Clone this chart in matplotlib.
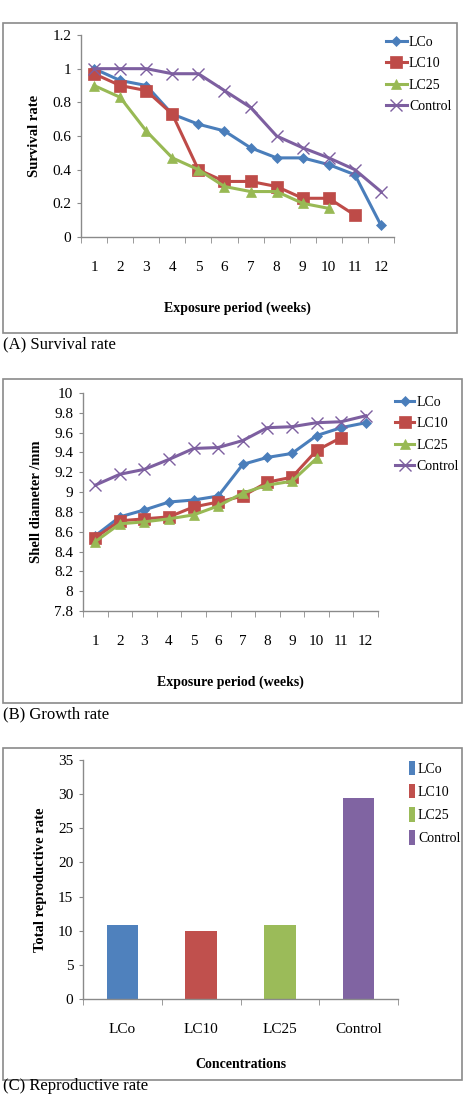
import numpy as np
import matplotlib.pyplot as plt
from matplotlib.patches import Rectangle, Patch

plt.rcParams["font.family"] = ["Liberation Serif", "DejaVu Serif"]

weeks = list(range(1, 13))
series_names = ["LCo", "LC10", "LC25", "Control"]

# (A) survival rate
surv_lco = [1.0, 0.93, 0.90, 0.73, 0.67, 0.63, 0.53, 0.47, 0.47, 0.43, 0.37, 0.07]
surv_lc10 = [0.97, 0.90, 0.87, 0.73, 0.40, 0.33, 0.33, 0.30, 0.23, 0.23, 0.13]
surv_lc25 = [0.90, 0.83, 0.63, 0.47, 0.40, 0.30, 0.27, 0.27, 0.20, 0.17]
surv_ctrl = [1.0, 1.0, 1.0, 0.97, 0.97, 0.87, 0.77, 0.60, 0.53, 0.47, 0.40, 0.27]

# (B) shell diameter
grow_lco = [8.56, 8.75, 8.82, 8.90, 8.92, 8.96, 9.28, 9.35, 9.39, 9.57, 9.65, 9.70]
grow_lc10 = [8.54, 8.71, 8.73, 8.75, 8.85, 8.90, 8.96, 9.10, 9.15, 9.42, 9.55]
grow_lc25 = [8.50, 8.68, 8.70, 8.73, 8.77, 8.86, 8.99, 9.07, 9.11, 9.34]
grow_ctrl = [9.07, 9.18, 9.23, 9.33, 9.44, 9.45, 9.52, 9.65, 9.66, 9.70, 9.71, 9.77]

# (C) total reproductive rate
repro = [10.9, 9.9, 10.8, 29.5]

line_colors = ["#4A7EBB", "#BE4B48", "#98B954", "#7D5FA0"]
bar_colors = ["#4F81BD", "#C0504D", "#9BBB59", "#8064A2"]
markers = ["D", "s", "^", "x"]
msizes = [5, 8, 7, 8]

W, H = 470, 1096
fig = plt.figure(figsize=(W / 100, H / 100), dpi=100)


def px_axes(left, top, right, bottom):
    return fig.add_axes([left / W, 1 - bottom / H, (right - left) / W, (bottom - top) / H])


def px_point(x, y):
    return (x / W, 1 - y / H)


def frame(left, top, right, bottom):
    fig.patches.append(Rectangle((left / W, 1 - bottom / H), (right - left) / W,
                                 (bottom - top) / H, transform=fig.transFigure,
                                 fill=False, edgecolor="#8a8a8a", lw=1.2))


def style_axes(ax, ncat):
    for s in ["top", "right"]:
        ax.spines[s].set_visible(False)
    for s in ["left", "bottom"]:
        ax.spines[s].set_color("#8a8a8a")
        ax.spines[s].set_linewidth(1.0)
    ax.set_xlim(0.5, ncat + 0.5)
    ax.set_xticks(np.arange(1, ncat + 1))
    ax.set_xticks(np.arange(0.5, ncat + 1), minor=True)
    ax.tick_params(axis="x", which="major", length=0, pad=17, labelsize=11)
    ax.tick_params(axis="x", which="minor", length=4, color="#8a8a8a", direction="out")
    ax.tick_params(axis="y", length=3, color="#8a8a8a", labelsize=11, pad=4)


def line_panel(ax, data, ylim, yticks, ytick_labels, ylabel, leg_xy, handle_len):
    for vals, c, m, ms, name in zip(data, line_colors, markers, msizes, series_names):
        x = weeks[:len(vals)]
        ax.plot(x, vals, color=c, lw=2.2, marker=m, ms=ms, label=name,
                mew=1.0 if m == "x" else 0.5)
    style_axes(ax, 12)
    ax.set_ylim(*ylim)
    ax.set_yticks(yticks)
    ax.set_yticklabels(ytick_labels)
    ax.set_xlabel("Exposure period (weeks)", fontsize=10, fontweight="bold", labelpad=20)
    ax.set_ylabel(ylabel, fontsize=10.5, fontweight="bold", labelpad=8)
    ax.legend(loc="upper left", bbox_to_anchor=px_point(*leg_xy),
              bbox_transform=fig.transFigure, frameon=False,
              fontsize=10, handlelength=handle_len, handletextpad=0.15,
              labelspacing=0.6, borderaxespad=0.0, borderpad=0.0)


# panel A
frame(3, 23, 457, 333)
axA = px_axes(81, 35, 394, 237)
line_panel(axA, [surv_lco, surv_lc10, surv_lc25, surv_ctrl], (0, 1.2),
           [0, 0.2, 0.4, 0.6, 0.8, 1.0, 1.2],
           ["0", "0.2", "0.4", "0.6", "0.8", "1", "1.2"], "Survival rate",
           (386, 36), 1.5)
fig.text(3 / W, 1 - 344 / H, "(A) Survival rate", fontsize=12, va="center")

# panel B
frame(3, 379, 462, 703)
axB = px_axes(83, 393, 378, 611)
ticksB = [7.8, 8.0, 8.2, 8.4, 8.6, 8.8, 9.0, 9.2, 9.4, 9.6, 9.8, 10.0]
line_panel(axB, [grow_lco, grow_lc10, grow_lc25, grow_ctrl], (7.8, 10.0),
           ticksB, ["7.8", "8", "8.2", "8.4", "8.6", "8.8", "9", "9.2", "9.4",
                    "9.6", "9.8", "10"], "Shell diameter /mm",
           (395, 396), 1.4)
fig.text(3 / W, 1 - 714 / H, "(B) Growth rate", fontsize=12, va="center")

# panel C
frame(3, 748, 462, 1080)
axC = px_axes(83, 760, 398, 999)
xc = np.arange(1, 5)
axC.bar(xc, repro, width=0.4, color=bar_colors)
style_axes(axC, 4)
axC.set_xticklabels(series_names)
axC.set_ylim(0, 35)
axC.set_yticks(range(0, 36, 5))
axC.set_xlabel("Concentrations", fontsize=10, fontweight="bold", labelpad=16)
axC.set_ylabel("Total reproductive rate", fontsize=10.5, fontweight="bold", labelpad=8)
handles = [Patch(facecolor=c, label=n) for c, n in zip(bar_colors, series_names)]
axC.legend(handles=handles, loc="upper left", bbox_to_anchor=px_point(409, 761),
           bbox_transform=fig.transFigure, frameon=False,
           fontsize=10, handlelength=0.45, handleheight=1.2, handletextpad=0.2,
           labelspacing=0.6, borderaxespad=0.0, borderpad=0.0)
fig.text(3 / W, 1 - 1094 / H, "(C) Reproductive rate", fontsize=12, va="bottom")

fig.savefig("out.png", dpi=100, facecolor="white")
